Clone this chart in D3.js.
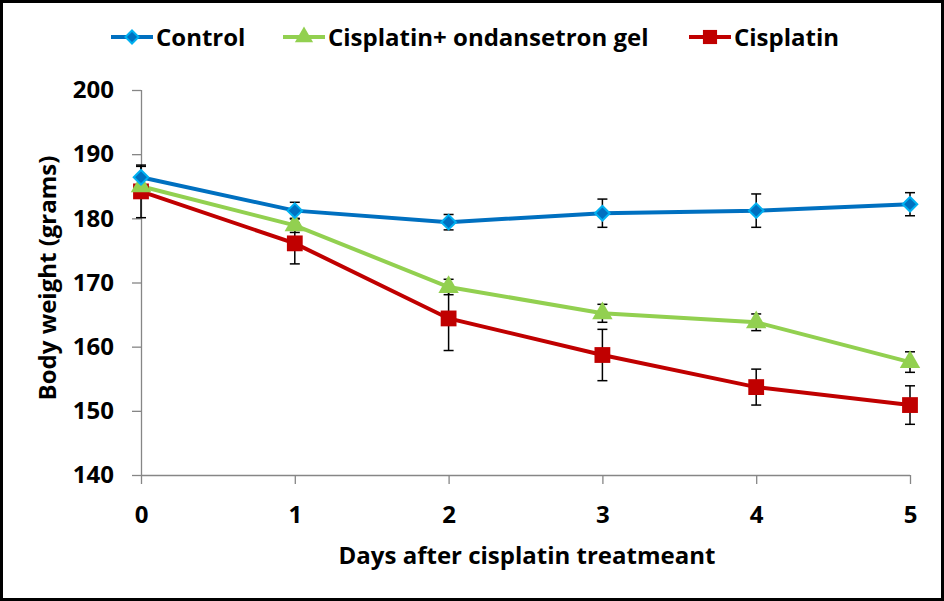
<!DOCTYPE html>
<html><head><meta charset="utf-8">
<script src="https://cdn.jsdelivr.net/npm/d3@7"></script>
<style>body{margin:0;background:#fff}svg{display:block}</style>
</head><body>
<svg id="c" width="944" height="601"></svg>
<script>
const days = [0,1,2,3,4,5];
const yTicks = [140,150,160,170,180,190,200];
const seriesNames = ["Control","Cisplatin+ ondansetron gel","Cisplatin"];
const controlVals = [186.4,181.2,179.4,180.8,181.2,182.2];
const controlErr  = [1.7,1.3,1.2,2.2,2.6,1.8];
const gelVals = [185.0,178.9,169.3,165.2,163.8,157.6];
const gelErr  = [1.0,1.1,1.2,1.4,1.3,1.6];
const cisVals = [184.2,176.1,164.4,158.7,153.7,150.9];
const cisErr  = [4.1,3.2,5.0,4.0,2.8,3.0];

const svg = d3.select("#c");
const font = "'Open Sans', Lato, sans-serif";
svg.append("rect").attr("x",1.5).attr("y",1.5).attr("width",941).attr("height",598)
  .attr("fill","#fff").attr("stroke","#000").attr("stroke-width",3);

const x = d3.scaleLinear().domain([0,5]).range([141,910]);
const y = d3.scaleLinear().domain([140,200]).range([475,90]);

const gy = svg.append("g").attr("transform","translate(141,0)")
  .call(d3.axisLeft(y).tickValues(yTicks).tickSize(9).tickPadding(18));
const gx = svg.append("g").attr("transform","translate(0,475)")
  .call(d3.axisBottom(x).tickValues(days).tickSize(9).tickPadding(22).tickFormat(d3.format("d")));
[gx,gy].forEach(g=>{
  g.selectAll("path,line").attr("stroke","#868686").attr("stroke-width",1.3);
  g.selectAll("text").attr("font-family",font).attr("font-weight","bold").attr("font-size",24).attr("fill","#000");
  g.select(".domain").attr("d", g===gx ? "M141,0.5H910" : "M0.5,90V475");
});

svg.append("text").attr("x",527).attr("y",564).attr("text-anchor","middle")
  .attr("font-family",font).attr("font-weight","bold").attr("font-size",24).text("Days after cisplatin treatmeant");
svg.append("text").attr("transform","translate(56,278) rotate(-90)").attr("text-anchor","middle")
  .attr("font-family",font).attr("font-weight","bold").attr("font-size",24).text("Body weight (grams)");

const series = [
  {name:seriesNames[0], vals:controlVals, err:controlErr, color:"#0070C0", marker:"diamond"},
  {name:seriesNames[1], vals:gelVals, err:gelErr, color:"#92D050", marker:"triangle"},
  {name:seriesNames[2], vals:cisVals, err:cisErr, color:"#C00000", marker:"square"}
];

function drawMarker(g, type, cx, cy, scale){
  const k = scale || 1;
  if(type==="diamond"){
    g.append("path").attr("d",d3.symbol(d3.symbolDiamond2,135*k)()).attr("transform",`translate(${cx},${cy})`)
     .attr("fill","#0070C0").attr("stroke","#00B0F0").attr("stroke-width",2);
  } else if(type==="triangle"){
    g.append("path").attr("d",d3.symbol(d3.symbolTriangle,180*k)()).attr("transform",`translate(${cx},${cy})`)
     .attr("fill","#92D050");
  } else {
    g.append("path").attr("d",d3.symbol(d3.symbolSquare,250*k)()).attr("transform",`translate(${cx},${cy})`)
     .attr("fill","#C00000");
  }
}

series.forEach(s=>{
  const g = svg.append("g");
  s.vals.forEach((v,i)=>{
    const x0 = x(days[i]), yt = y(v+s.err[i]), yb = y(v-s.err[i]);
    g.append("line").attr("x1",x0).attr("x2",x0).attr("y1",yt).attr("y2",yb).attr("stroke","#000").attr("stroke-width",1.5);
    [yt,yb].forEach(yy=>g.append("line").attr("x1",x0-5).attr("x2",x0+5).attr("y1",yy).attr("y2",yy).attr("stroke","#000").attr("stroke-width",1.5));
  });
});

const line = d3.line().x((d,i)=>x(days[i])).y(d=>y(d));
series.slice().reverse().forEach(s=>{
  svg.append("path").datum(s.vals).attr("d",line).attr("fill","none").attr("stroke",s.color).attr("stroke-width",4);
});
series.slice().reverse().forEach(s=>{
  const g = svg.append("g");
  s.vals.forEach((v,i)=>drawMarker(g,s.marker,x(days[i]),y(v)));
});

const legX = [111,283,689];
series.forEach((s,i)=>{
  const g = svg.append("g").attr("transform",`translate(${legX[i]},37)`);
  g.append("line").attr("x1",0).attr("x2",42).attr("stroke",s.color).attr("stroke-width",4);
  drawMarker(g,s.marker,21,0,0.8);
  g.append("text").attr("x",45).attr("y",9).attr("font-family",font).attr("font-weight","bold")
   .attr("font-size",24).text(s.name);
});
</script>
</body></html>
